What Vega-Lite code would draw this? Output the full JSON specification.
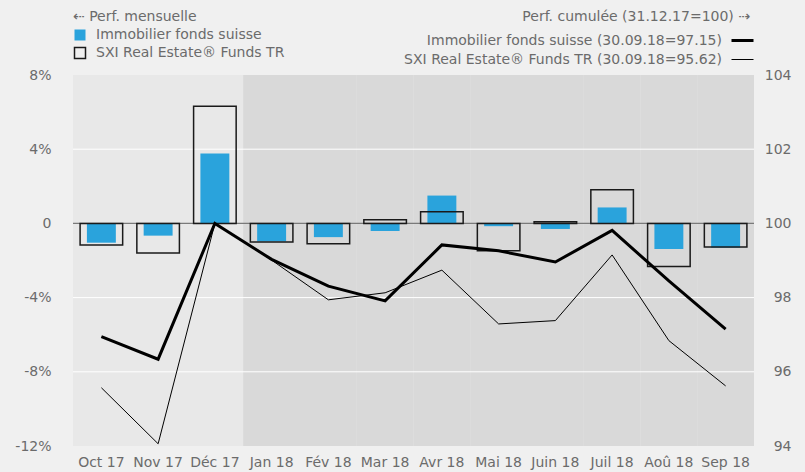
{
  "$schema": "https://vega.github.io/schema/vega-lite/v6.json",
  "width": 681,
  "height": 371,
  "autosize": {"type": "none"},
  "padding": {"left": 73, "top": 75, "right": 51, "bottom": 26},
  "background": "#f0f0f0",
  "config": {
    "font": "DejaVu Sans",
    "view": {"fill": "#e8e8e8", "stroke": null},
    "axis": {"labelFont": "DejaVu Sans", "labelFontSize": 14, "labelColor": "#6b6b6b", "domain": false, "ticks": false, "title": null, "grid": false},
    "legend": {"labelFont": "DejaVu Sans", "titleFont": "DejaVu Sans", "labelFontSize": 14, "titleFontSize": 14, "titleFontWeight": "normal", "labelColor": "#6b6b6b", "titleColor": "#6b6b6b", "labelLimit": 500, "titleLimit": 500, "padding": 0, "rowPadding": 0, "titlePadding": 4}
  },
  "datasets": {
    "months": [
      {"month": "Oct 17", "period": "2017"}, {"month": "Nov 17", "period": "2017"}, {"month": "Déc 17", "period": "2017"},
      {"month": "Jan 18", "period": "2018"}, {"month": "Fév 18", "period": "2018"}, {"month": "Mar 18", "period": "2018"},
      {"month": "Avr 18", "period": "2018"}, {"month": "Mai 18", "period": "2018"}, {"month": "Juin 18", "period": "2018"},
      {"month": "Juil 18", "period": "2018"}, {"month": "Aoû 18", "period": "2018"}, {"month": "Sep 18", "period": "2018"}
    ],
    "grid": [{"g": 4}, {"g": -4}, {"g": -8}],
    "monthly": [
      {"month": "Oct 17", "series": "Immobilier fonds suisse", "value": -1.04},
      {"month": "Nov 17", "series": "Immobilier fonds suisse", "value": -0.66},
      {"month": "Déc 17", "series": "Immobilier fonds suisse", "value": 3.77},
      {"month": "Jan 18", "series": "Immobilier fonds suisse", "value": -0.97},
      {"month": "Fév 18", "series": "Immobilier fonds suisse", "value": -0.74},
      {"month": "Mar 18", "series": "Immobilier fonds suisse", "value": -0.41},
      {"month": "Avr 18", "series": "Immobilier fonds suisse", "value": 1.5},
      {"month": "Mai 18", "series": "Immobilier fonds suisse", "value": -0.15},
      {"month": "Juin 18", "series": "Immobilier fonds suisse", "value": -0.3},
      {"month": "Juil 18", "series": "Immobilier fonds suisse", "value": 0.86},
      {"month": "Aoû 18", "series": "Immobilier fonds suisse", "value": -1.38},
      {"month": "Sep 18", "series": "Immobilier fonds suisse", "value": -1.31},
      {"month": "Oct 17", "series": "SXI Real Estate® Funds TR", "value": -1.16},
      {"month": "Nov 17", "series": "SXI Real Estate® Funds TR", "value": -1.6},
      {"month": "Déc 17", "series": "SXI Real Estate® Funds TR", "value": 6.31},
      {"month": "Jan 18", "series": "SXI Real Estate® Funds TR", "value": -1.0},
      {"month": "Fév 18", "series": "SXI Real Estate® Funds TR", "value": -1.1},
      {"month": "Mar 18", "series": "SXI Real Estate® Funds TR", "value": 0.2},
      {"month": "Avr 18", "series": "SXI Real Estate® Funds TR", "value": 0.63},
      {"month": "Mai 18", "series": "SXI Real Estate® Funds TR", "value": -1.47},
      {"month": "Juin 18", "series": "SXI Real Estate® Funds TR", "value": 0.09},
      {"month": "Juil 18", "series": "SXI Real Estate® Funds TR", "value": 1.82},
      {"month": "Aoû 18", "series": "SXI Real Estate® Funds TR", "value": -2.33},
      {"month": "Sep 18", "series": "SXI Real Estate® Funds TR", "value": -1.27}
    ],
    "cumul": [
      {"month": "Oct 17", "series": "Immobilier fonds suisse (30.09.18=97.15)", "value": 96.95},
      {"month": "Nov 17", "series": "Immobilier fonds suisse (30.09.18=97.15)", "value": 96.34},
      {"month": "Déc 17", "series": "Immobilier fonds suisse (30.09.18=97.15)", "value": 100},
      {"month": "Jan 18", "series": "Immobilier fonds suisse (30.09.18=97.15)", "value": 99.03},
      {"month": "Fév 18", "series": "Immobilier fonds suisse (30.09.18=97.15)", "value": 98.31},
      {"month": "Mar 18", "series": "Immobilier fonds suisse (30.09.18=97.15)", "value": 97.91},
      {"month": "Avr 18", "series": "Immobilier fonds suisse (30.09.18=97.15)", "value": 99.42},
      {"month": "Mai 18", "series": "Immobilier fonds suisse (30.09.18=97.15)", "value": 99.26},
      {"month": "Juin 18", "series": "Immobilier fonds suisse (30.09.18=97.15)", "value": 98.96},
      {"month": "Juil 18", "series": "Immobilier fonds suisse (30.09.18=97.15)", "value": 99.81},
      {"month": "Aoû 18", "series": "Immobilier fonds suisse (30.09.18=97.15)", "value": 98.45},
      {"month": "Sep 18", "series": "Immobilier fonds suisse (30.09.18=97.15)", "value": 97.15},
      {"month": "Oct 17", "series": "SXI Real Estate® Funds TR (30.09.18=95.62)", "value": 95.57},
      {"month": "Nov 17", "series": "SXI Real Estate® Funds TR (30.09.18=95.62)", "value": 94.06},
      {"month": "Déc 17", "series": "SXI Real Estate® Funds TR (30.09.18=95.62)", "value": 100},
      {"month": "Jan 18", "series": "SXI Real Estate® Funds TR (30.09.18=95.62)", "value": 99.01},
      {"month": "Fév 18", "series": "SXI Real Estate® Funds TR (30.09.18=95.62)", "value": 97.94},
      {"month": "Mar 18", "series": "SXI Real Estate® Funds TR (30.09.18=95.62)", "value": 98.13},
      {"month": "Avr 18", "series": "SXI Real Estate® Funds TR (30.09.18=95.62)", "value": 98.74},
      {"month": "Mai 18", "series": "SXI Real Estate® Funds TR (30.09.18=95.62)", "value": 97.29},
      {"month": "Juin 18", "series": "SXI Real Estate® Funds TR (30.09.18=95.62)", "value": 97.38},
      {"month": "Juil 18", "series": "SXI Real Estate® Funds TR (30.09.18=95.62)", "value": 99.15},
      {"month": "Aoû 18", "series": "SXI Real Estate® Funds TR (30.09.18=95.62)", "value": 96.84},
      {"month": "Sep 18", "series": "SXI Real Estate® Funds TR (30.09.18=95.62)", "value": 95.62}
    ]
  },
  "layer": [
    {
      "layer": [
        {
          "data": {"name": "months"},
          "transform": [{"filter": "datum.period == '2018'"}],
          "mark": {"type": "bar", "color": "#d9d9d9", "width": {"band": 1}},
          "encoding": {
            "x": {
              "field": "month", "type": "ordinal",
              "scale": {"domain": ["Oct 17", "Nov 17", "Déc 17", "Jan 18", "Fév 18", "Mar 18", "Avr 18", "Mai 18", "Juin 18", "Juil 18", "Aoû 18", "Sep 18"], "paddingInner": 0, "paddingOuter": 0},
              "axis": {"labelAngle": 0, "labelPadding": 16, "labelOverlap": false, "labelBound": false, "labelBaseline": "middle", "title": null}
            },
            "y": {
              "datum": 8, "type": "quantitative",
              "scale": {"domain": [-12, 8], "nice": false, "zero": false},
              "axis": {"values": [-12, -8, -4, 0, 4, 8], "labelExpr": "datum.value == 0 ? '0\u00a0\u00a0\u00a0\u00a0' : datum.value + '%'", "labelPadding": 22, "labelAlign": "right", "labelBaseline": "middle", "title": null}
            },
            "y2": {"datum": -12}
          }
        },
        {
          "data": {"name": "grid"},
          "mark": {"type": "rule", "color": "#ffffff", "strokeWidth": 1},
          "encoding": {"y": {"field": "g", "type": "quantitative"}}
        },
        {
          "data": {"values": [{"z": 0}]},
          "mark": {"type": "rule", "color": "#7a7a7a", "strokeWidth": 1.2},
          "encoding": {"y": {"field": "z", "type": "quantitative"}}
        },
        {
          "data": {"name": "monthly"},
          "transform": [{"filter": "datum.series == 'Immobilier fonds suisse'"}],
          "mark": {"type": "bar", "width": {"band": 0.51}, "strokeWidth": 1.5},
          "encoding": {
            "x": {"field": "month", "type": "ordinal"},
            "y": {"field": "value", "type": "quantitative", "stack": null},
            "fill": {
              "field": "series", "type": "nominal",
              "scale": {"domain": ["Immobilier fonds suisse", "SXI Real Estate® Funds TR"], "range": ["#2aa3dc", "transparent"]},
              "legend": {"title": "⇠ Perf. mensuelle", "orient": "none", "legendX": 0, "legendY": -65, "symbolType": "square", "symbolSize": 121, "symbolStrokeWidth": 1.5, "labelOffset": 9}
            },
            "stroke": {
              "field": "series", "type": "nominal",
              "scale": {"domain": ["Immobilier fonds suisse", "SXI Real Estate® Funds TR"], "range": ["transparent", "#1a1a1a"]}
            }
          }
        },
        {
          "data": {"name": "monthly"},
          "transform": [{"filter": "datum.series != 'Immobilier fonds suisse'"}],
          "mark": {"type": "bar", "width": {"band": 0.75}, "strokeWidth": 1.5},
          "encoding": {
            "x": {"field": "month", "type": "ordinal"},
            "y": {"field": "value", "type": "quantitative", "stack": null},
            "fill": {"field": "series", "type": "nominal"},
            "stroke": {"field": "series", "type": "nominal"}
          }
        }
      ]
    },
    {
      "data": {"name": "cumul"},
      "mark": {"type": "line", "color": "#000000"},
      "encoding": {
        "x": {"field": "month", "type": "ordinal", "sort": ["Oct 17", "Nov 17", "Déc 17", "Jan 18", "Fév 18", "Mar 18", "Avr 18", "Mai 18", "Juin 18", "Juil 18", "Aoû 18", "Sep 18"]},
        "y": {
          "field": "value", "type": "quantitative",
          "scale": {"domain": [94, 104], "nice": false, "zero": false},
          "axis": {"orient": "right", "values": [94, 96, 98, 100, 102, 104], "labelPadding": 37, "labelAlign": "right", "labelBaseline": "middle", "title": null}
        },
        "detail": {"field": "series", "type": "nominal"},
        "strokeWidth": {
          "field": "series", "type": "nominal",
          "scale": {"type": "ordinal", "domain": ["Immobilier fonds suisse (30.09.18=97.15)", "SXI Real Estate® Funds TR (30.09.18=95.62)"], "range": [3, 1]},
          "legend": {
            "title": "Perf. cumulée (31.12.17=100) ⇢", "orient": "none", "legendX": 449, "legendY": -65,
            "symbolType": "stroke", "symbolSize": 484, "symbolStrokeColor": "#000000",
            "labelAlign": "right", "labelOffset": -33, "titleAnchor": "end", "titleAlign": "right",
            "encode": {"title": {"update": {"dx": {"value": -10}}}}
          }
        }
      }
    }
  ],
  "resolve": {"scale": {"y": "independent"}}
}
